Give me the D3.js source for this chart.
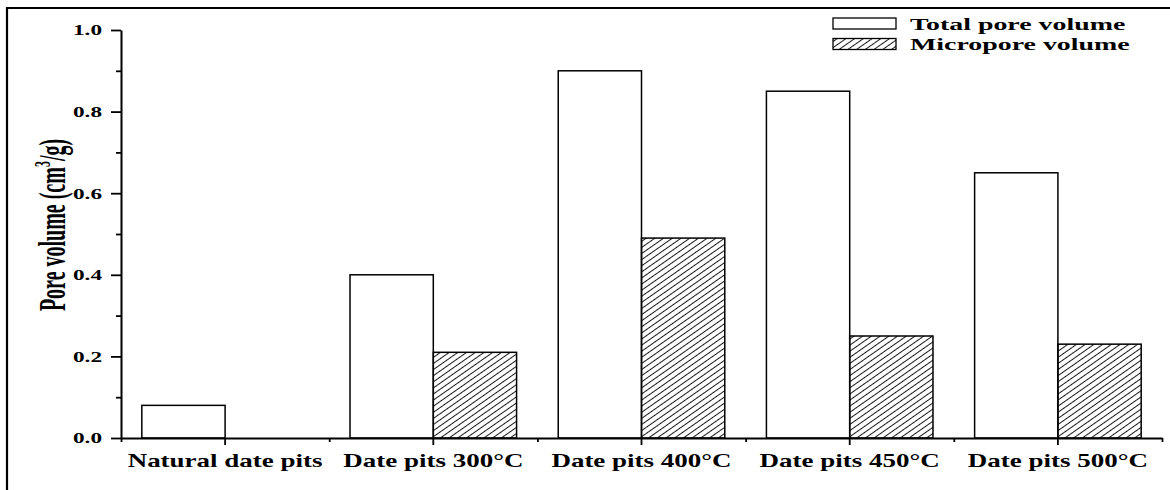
<!DOCTYPE html>
<html>
<head>
<meta charset="utf-8">
<script src="https://cdn.jsdelivr.net/npm/d3@7"></script>
<style>
  body { margin: 0; background: #fff; }
  svg { display: block; }
  text { font-family: "Liberation Serif", "Times New Roman", serif; font-weight: bold; fill: #000; }
</style>
</head>
<body>
<svg width="1170" height="490"></svg>
<script>
const categories = ["Natural date pits", "Date pits 300°C", "Date pits 400°C", "Date pits 450°C", "Date pits 500°C"];
const seriesNames = ["Total pore volume", "Micropore volume"];
const totalPore = [0.08, 0.40, 0.90, 0.85, 0.65];
const micropore = [0, 0.21, 0.49, 0.25, 0.23];
const yTicks = [0, 0.2, 0.4, 0.6, 0.8, 1.0];
const yMinorTicks = [0.1, 0.3, 0.5, 0.7, 0.9];

const svg = d3.select("svg");

// the source figure is stretched sideways, so text gets widened too
const stretchTick = 1.55;
const stretchCat = 1.5;
const stretchLegend = 1.69;
const stretchLabel = 1.85;

const plotLeft = 121, plotRight = 1162, plotBottom = 438, plotTop = 30;

const x = d3.scaleBand().domain(categories).range([plotLeft, plotRight]);
const xs = d3.scaleBand().domain(seriesNames).range([0, x.bandwidth()]).paddingOuter(0.25);
const y = d3.scaleLinear().domain([0, 1]).range([plotBottom, plotTop]);

const defs = svg.append("defs");
defs.append("pattern")
    .attr("id", "hatch")
    .attr("patternUnits", "userSpaceOnUse")
    .attr("width", 8)
    .attr("height", 5)
    .attr("patternTransform", "rotate(-35)")
  .append("line")
    .attr("x1", -1).attr("x2", 9)
    .attr("y1", 2.5).attr("y2", 2.5)
    .attr("stroke", "#000")
    .attr("stroke-width", 0.9);

const fills = ["#fff", "url(#hatch)"];

// outer frame (cut off at right and bottom)
svg.append("path")
    .attr("d", "M7,490V8H1170")
    .attr("fill", "none")
    .attr("stroke", "#000")
    .attr("stroke-width", 2.2);

// bars
const rows = categories.map((c, i) => ({
  cat: c,
  vals: [
    { key: seriesNames[0], v: totalPore[i], fill: fills[0] },
    { key: seriesNames[1], v: micropore[i], fill: fills[1] }
  ]
}));

const groups = svg.append("g").selectAll("g").data(rows)
  .enter().append("g")
    .attr("transform", d => `translate(${x(d.cat)},0)`);

groups.selectAll("rect").data(d => d.vals.filter(v => v.v > 0))
  .enter().append("rect")
    .attr("x", d => xs(d.key))
    .attr("width", xs.bandwidth())
    .attr("y", d => y(d.v))
    .attr("height", d => y(0) - y(d.v))
    .attr("fill", d => d.fill)
    .attr("stroke", "#000")
    .attr("stroke-width", 1.5);

// y axis
const yAxis = svg.append("g")
    .attr("transform", `translate(${plotLeft},0)`)
    .call(d3.axisLeft(y).tickValues(yTicks).tickFormat(d3.format(".1f")).tickSize(10).tickSizeOuter(0));
yAxis.select(".domain").attr("stroke-width", 2);
yAxis.selectAll(".tick line").attr("stroke-width", 1.8);
yAxis.selectAll(".tick text")
    .attr("font-size", 15)
    .attr("x", -19 / stretchTick)
    .attr("transform", `scale(${stretchTick},1)`);

const yMinor = svg.append("g")
    .attr("transform", `translate(${plotLeft},0)`)
    .call(d3.axisLeft(y).tickValues(yMinorTicks).tickFormat("").tickSize(5).tickSizeOuter(0));
yMinor.select(".domain").remove();
yMinor.selectAll(".tick line").attr("stroke-width", 1.8);

// x axis
const xAxis = svg.append("g")
    .attr("transform", `translate(0,${plotBottom})`)
    .call(d3.axisBottom(x).tickSize(7).tickSizeOuter(0));
xAxis.select(".domain").attr("stroke-width", 2);
xAxis.selectAll(".tick line").attr("stroke-width", 1.8);
xAxis.selectAll(".tick text")
    .attr("font-size", 18)
    .attr("y", 29)
    .attr("dy", 0)
    .attr("transform", `scale(${stretchCat},1)`);

const edges = d3.scaleLinear().domain([0, categories.length]).range([plotLeft, plotRight]);
const xMinor = svg.append("g")
    .attr("transform", `translate(0,${plotBottom})`)
    .call(d3.axisBottom(edges).tickValues(d3.range(0, categories.length + 1)).tickFormat("").tickSize(4).tickSizeOuter(0));
xMinor.select(".domain").remove();
xMinor.selectAll(".tick line").attr("stroke-width", 1.8);

// y label
const yLabel = svg.append("text")
    .attr("transform", `translate(65,225) scale(${stretchLabel},1) rotate(-90)`)
    .attr("text-anchor", "middle")
    .attr("font-size", 20);
yLabel.append("tspan").text("Pore volume (cm");
yLabel.append("tspan").attr("dy", -8).attr("font-size", 12).text("3");
yLabel.append("tspan").attr("dy", 8).text("/g)");

// legend
const legend = svg.append("g").selectAll("g").data(seriesNames)
  .enter().append("g")
    .attr("transform", (d, i) => `translate(833,${18 + i * 20.5})`);
legend.append("rect")
    .attr("width", 63)
    .attr("height", 11)
    .attr("fill", (d, i) => fills[i])
    .attr("stroke", "#000")
    .attr("stroke-width", 1.3);
legend.append("text")
    .attr("transform", `translate(77,11.5) scale(${stretchLegend},1)`)
    .attr("font-size", 16.5)
    .text(d => d);
</script>
</body>
</html>
